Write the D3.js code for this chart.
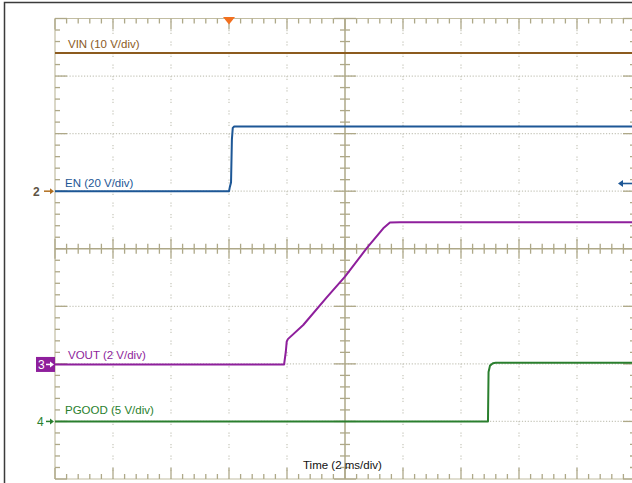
<!DOCTYPE html>
<html>
<head>
<meta charset="utf-8">
<script src="https://cdn.jsdelivr.net/npm/d3@7"></script>
<style>
  html, body { margin: 0; padding: 0; background: #fff; overflow: hidden; }
  text { font-family: "Liberation Sans", Arial, sans-serif; }
</style>
</head>
<body>
<svg id="scope" width="632" height="483"></svg>
<script>
// ---- Acquisition data (time in ms relative to trigger, values in volts) ----
const timeDomain = [-6, 14];          // 10 divisions x 2 ms/div
const divDomain = [-4, 4];            // 8 vertical divisions

const vinT   = [-6, 14];
const vinV   = [24, 24];

const enT    = [-6, 0.0, 0.03, 0.07, 0.10, 0.13, 0.18, 14];
const enV    = [0, 0, 1.5, 3.0, 18.0, 22.0, 22.5, 22.5];

const voutT  = [-6, 1.90, 1.96, 1.99, 2.03, 2.56, 3.37, 4.00, 4.75, 5.32, 5.55, 5.90, 14];
const voutV  = [0, 0, 0.45, 0.79, 0.88, 1.37, 2.33, 3.05, 4.04, 4.73, 4.93, 4.94, 4.94];

const pgoodT = [-6, 8.93, 8.95, 9.00, 9.10, 9.20, 14];
const pgoodV = [0, 0, 4.3, 4.85, 5.05, 5.1, 5.1];

// channel settings: label, V/div, ground position (div), colours
const channelLabels  = ["VIN (10 V/div)", "EN (20 V/div)", "VOUT (2 V/div)", "PGOOD (5 V/div)"];
const channelScales  = [10, 20, 2, 5];
const channelOffsets = [1.0, 1.0, -2.01, -3.0];
const channelColors  = ["#8c5b1e", "#1d5796", "#8e1f9c", "#2a7f2e"];
const channelTimes   = [vinT, enT, voutT, pgoodT];
const channelValues  = [vinV, enV, voutV, pgoodV];

const timeLabel = "Time (2 ms/div)";

// ---- Scales ----
const svg = d3.select("#scope");
const x = d3.scaleLinear().domain(timeDomain).range([55, 635]);
const y = d3.scaleLinear().domain(divDomain).range([479, 18.5]);

// outer screen frame
svg.append("rect")
  .attr("x", 4.5).attr("y", 2.5).attr("width", 700).attr("height", 600)
  .attr("fill", "none").attr("stroke", "#3b3b3b").attr("stroke-width", 1.5);

// ---- Graticule ----
const grid = svg.append("g");
const majorT = d3.range(timeDomain[0], timeDomain[1] + 0.001, 2);
const minorT = d3.range(timeDomain[0], timeDomain[1] + 0.001, 0.4);
const majorD = d3.range(divDomain[0], divDomain[1] + 0.001, 1);
const minorD = d3.range(divDomain[0], divDomain[1] + 0.001, 0.2);
const centerT = (timeDomain[0] + timeDomain[1]) / 2;
const tickCol = "#aea888";
const dotCol = "#c6c6ba";

// dotted division lines
grid.selectAll("line.vdot")
  .data(majorT.filter(t => t !== timeDomain[0] && t !== timeDomain[1] && Math.abs(t - centerT) > 1e-6))
  .join("line")
  .attr("x1", d => x(d)).attr("x2", d => x(d))
  .attr("y1", y(4)).attr("y2", y(-4))
  .attr("stroke", dotCol).attr("stroke-width", 1.2)
  .attr("stroke-dasharray", "1.2,1.6,1.2,7.5");

grid.selectAll("line.hdot")
  .data(majorD.filter(d => Math.abs(d) > 1e-6 && Math.abs(d) < 4))
  .join("line")
  .attr("x1", x(timeDomain[0])).attr("x2", x(timeDomain[1]))
  .attr("y1", d => y(d)).attr("y2", d => y(d))
  .attr("stroke", dotCol).attr("stroke-width", 1.2)
  .attr("stroke-dasharray", "1.2,1.7");

// border lines
const border = [
  [x(timeDomain[0]), y(4), x(timeDomain[0]), y(-4)],
  [x(timeDomain[1]), y(4), x(timeDomain[1]), y(-4)],
  [x(timeDomain[0]), y(4), x(timeDomain[1]), y(4)],
  [x(timeDomain[0]), y(-4), x(timeDomain[1]), y(-4)]
];
grid.selectAll("line.border").data(border).join("line")
  .attr("x1", d => d[0]).attr("y1", d => d[1]).attr("x2", d => d[2]).attr("y2", d => d[3])
  .attr("stroke", "#c2bda2").attr("stroke-width", 1.2);

// center crosshair
grid.append("line")
  .attr("x1", x(timeDomain[0])).attr("x2", x(timeDomain[1]))
  .attr("y1", y(0)).attr("y2", y(0))
  .attr("stroke", tickCol).attr("stroke-width", 1.5);
grid.append("line")
  .attr("x1", x(centerT)).attr("x2", x(centerT))
  .attr("y1", y(4)).attr("y2", y(-4))
  .attr("stroke", tickCol).attr("stroke-width", 1.5);

const isMajorT = t => Math.abs((t - timeDomain[0]) / 2 - Math.round((t - timeDomain[0]) / 2)) < 1e-6;
const isMajorD = d => Math.abs(d - Math.round(d)) < 1e-6;

// ticks along horizontal axes (center, top, bottom)
minorT.forEach(t => {
  const big = isMajorT(t);
  const xx = x(t);
  const lenC = big ? 10 : 5;
  grid.append("line").attr("x1", xx).attr("x2", xx)
    .attr("y1", y(0) - lenC).attr("y2", y(0) + lenC)
    .attr("stroke", tickCol).attr("stroke-width", 1.3);
  const lenE = big ? 11 : 5;
  grid.append("line").attr("x1", xx).attr("x2", xx)
    .attr("y1", y(4)).attr("y2", y(4) + lenE)
    .attr("stroke", tickCol).attr("stroke-width", 1.3);
  grid.append("line").attr("x1", xx).attr("x2", xx)
    .attr("y1", y(-4)).attr("y2", y(-4) - lenE)
    .attr("stroke", tickCol).attr("stroke-width", 1.3);
});

// ticks along vertical axes (center, left, right)
minorD.forEach(d => {
  const big = isMajorD(d);
  const yy = y(d);
  const lenC = big ? 11 : 5;
  grid.append("line").attr("y1", yy).attr("y2", yy)
    .attr("x1", x(centerT) - lenC).attr("x2", x(centerT) + lenC)
    .attr("stroke", tickCol).attr("stroke-width", 1.3);
  const lenE = big ? 12 : 5;
  grid.append("line").attr("y1", yy).attr("y2", yy)
    .attr("x1", x(timeDomain[0])).attr("x2", x(timeDomain[0]) + lenE)
    .attr("stroke", tickCol).attr("stroke-width", 1.3);
  grid.append("line").attr("y1", yy).attr("y2", yy)
    .attr("x1", x(timeDomain[1])).attr("x2", x(timeDomain[1]) - lenE)
    .attr("stroke", tickCol).attr("stroke-width", 1.3);
});

// ---- Traces ----
const traces = svg.append("g");
channelLabels.forEach((name, i) => {
  const pts = channelTimes[i].map((t, k) => [t, channelValues[i][k]]);
  const line = d3.line()
    .x(p => x(p[0]))
    .y(p => y(channelOffsets[i] + p[1] / channelScales[i]));
  traces.append("path")
    .attr("d", line(pts))
    .attr("fill", "none")
    .attr("stroke", channelColors[i])
    .attr("stroke-width", 2)
    .attr("stroke-linejoin", "round");
});

// ---- Channel labels ----
const labelPos = [[68, 48], [65, 187], [68, 359], [65, 414]];
channelLabels.forEach((name, i) => {
  svg.append("text")
    .attr("x", labelPos[i][0]).attr("y", labelPos[i][1])
    .attr("font-size", 11.5)
    .attr("fill", channelColors[i])
    .text(name);
});

// ---- Ground markers ----
function arrowRight(g, x0, x1, yy, col) {
  g.append("line").attr("x1", x0).attr("x2", x1 - 3).attr("y1", yy).attr("y2", yy)
    .attr("stroke", col).attr("stroke-width", 1.5);
  g.append("path")
    .attr("d", `M${x1},${yy} L${x1 - 4},${yy - 3} L${x1 - 4},${yy + 3} Z`)
    .attr("fill", col);
}
const markers = svg.append("g");
// channel 2 (shared with channel 1 ground)
const yEN = y(channelOffsets[1]);
markers.append("text").attr("x", 33).attr("y", yEN + 4.5)
  .attr("font-size", 12).attr("font-weight", "bold").attr("fill", "#5e5444").text("2");
arrowRight(markers, 44, 54, yEN, "#b06e1e");
// channel 3
const yVO = y(channelOffsets[2]);
markers.append("rect").attr("x", 36).attr("y", yVO - 7.5).attr("width", 19).attr("height", 15)
  .attr("fill", channelColors[2]);
markers.append("text").attr("x", 38).attr("y", yVO + 4.5)
  .attr("font-size", 12).attr("fill", "#fff").text("3");
arrowRight(markers, 46, 54, yVO, "#fff");
// channel 4
const yPG = y(channelOffsets[3]);
markers.append("text").attr("x", 37).attr("y", yPG + 4.5)
  .attr("font-size", 12).attr("fill", channelColors[3]).text("4");
arrowRight(markers, 46, 54, yPG, channelColors[3]);

// off-screen indicator at right edge
markers.append("line").attr("x1", 622).attr("x2", 632).attr("y1", 183.5).attr("y2", 183.5)
  .attr("stroke", channelColors[1]).attr("stroke-width", 1.6);
markers.append("path").attr("d", "M618,183.5 L623,180 L623,187 Z").attr("fill", channelColors[1]);

// trigger position marker
const xt = x(0);
svg.append("path")
  .attr("d", `M${xt - 6},${y(4) - 1.5} L${xt + 6},${y(4) - 1.5} L${xt},${y(4) + 6} Z`)
  .attr("fill", "#f2701f");

// time base label
svg.append("text").attr("x", 303).attr("y", 469)
  .attr("font-size", 11.5).attr("fill", "#111").text(timeLabel);
</script>
</body>
</html>
